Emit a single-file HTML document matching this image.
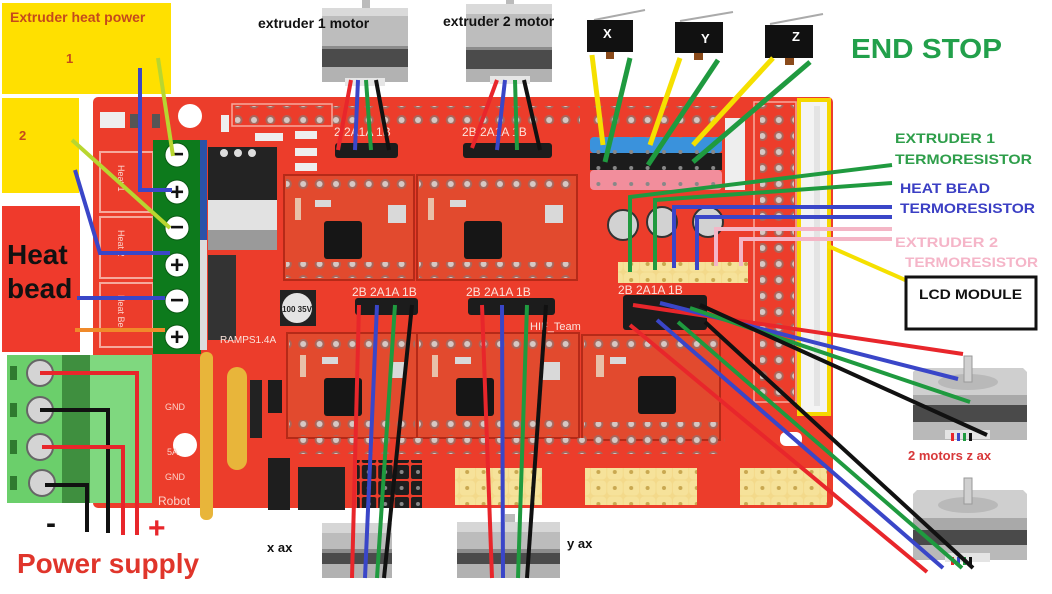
<!DOCTYPE html>
<html><head><meta charset="utf-8"><style>html,body{margin:0;padding:0;background:#fff}svg{display:block}</style></head>
<body>
<svg width="1052" height="594" viewBox="0 0 1052 594" xmlns="http://www.w3.org/2000/svg" font-family="'Liberation Sans', Arial, sans-serif" font-weight="bold">
<defs>
<pattern id="h" x="0" y="0" width="16.4" height="16" patternUnits="userSpaceOnUse"><circle cx="8" cy="8" r="5" fill="#a8675c"/><circle cx="8" cy="8" r="3" fill="#d6c8c4"/></pattern>
<pattern id="hy" x="0" y="0" width="16.4" height="16" patternUnits="userSpaceOnUse"><rect x="0" y="0" width="16.4" height="16" fill="#f3d98a"/><rect x="0.5" y="0.5" width="15.4" height="15" rx="4" fill="#f6e29a"/><circle cx="8" cy="8" r="2" fill="#c9a850"/></pattern>
<pattern id="hb" x="0" y="0" width="16.4" height="16" patternUnits="userSpaceOnUse"><rect x="1" y="1" width="14.4" height="14" rx="2" fill="#1e1e1e"/><circle cx="8" cy="8" r="2" fill="#888"/></pattern>
<pattern id="pd" x="0" y="0" width="16.4" height="16" patternUnits="userSpaceOnUse"><circle cx="8" cy="8" r="2" fill="#888"/></pattern>
</defs>
<rect width="1052" height="594" fill="#fff"/>

<!-- yellow / red label boxes -->
<rect x="2" y="3" width="169" height="91" fill="#ffe000"/>
<rect x="2" y="98" width="77" height="95" fill="#ffe000"/>
<rect x="2" y="206" width="78" height="146" fill="#ef3a2c"/>
<text x="10" y="22" font-size="14" fill="#c54a1c">Extruder heat power</text>
<text x="66" y="63" font-size="13" fill="#c54a1c">1</text>
<text x="19" y="140" font-size="13" fill="#c54a1c">2</text>
<text x="7" y="264" font-size="28" fill="#111">Heat</text>
<text x="7" y="298" font-size="28" fill="#111">bead</text>

<!-- board -->
<rect x="93" y="97" width="740" height="411" rx="5" fill="#ec3d2b"/>
<rect x="100" y="152" width="53" height="60" fill="none" stroke="#f6a99c" stroke-width="2"/>
<rect x="100" y="217" width="53" height="61" fill="none" stroke="#f6a99c" stroke-width="2"/>
<rect x="100" y="283" width="53" height="64" fill="none" stroke="#f6a99c" stroke-width="2"/>
<text transform="translate(118,165) rotate(90)" font-size="9" fill="#fbd3cb" font-weight="normal">Heat 1</text>
<text transform="translate(118,230) rotate(90)" font-size="9" fill="#fbd3cb" font-weight="normal">Heat 2</text>
<text transform="translate(118,295) rotate(90)" font-size="9" fill="#fbd3cb" font-weight="normal">Heat Bed</text>
<!-- top-left leds -->
<rect x="100" y="112" width="25" height="16" fill="#eee"/><rect x="130" y="114" width="10" height="14" fill="#555"/><rect x="152" y="114" width="8" height="14" fill="#555"/>
<circle cx="190" cy="116" r="12" fill="#fff"/>
<rect x="221" y="115" width="8" height="17" fill="#eee"/>
<!-- top hole row -->
<rect x="235" y="106" width="345" height="18" fill="url(#h)"/>
<rect x="590" y="106" width="130" height="18" fill="url(#h)"/>
<rect x="232" y="104" width="100" height="22" fill="none" stroke="#f6a99c" stroke-width="1.5"/>
<!-- small smd -->
<rect x="255" y="133" width="28" height="8" fill="#eee"/><rect x="295" y="131" width="22" height="8" fill="#eee"/>
<rect x="295" y="148" width="22" height="8" fill="#eee"/><rect x="295" y="163" width="22" height="8" fill="#eee"/>

<!-- heater green terminal -->
<rect x="153" y="140" width="48" height="214" fill="#0d7a1c"/>
<rect x="200" y="140" width="7" height="100" fill="#2a52a8"/>
<rect x="200" y="240" width="7" height="110" fill="#dcdcdc"/>
<g fill="#fff" stroke="#0a5a14" stroke-width="1">
<circle cx="177" cy="155" r="12"/><circle cx="177" cy="192" r="12"/><circle cx="177" cy="228" r="12"/>
<circle cx="177" cy="265" r="12"/><circle cx="177" cy="301" r="12"/><circle cx="177" cy="337" r="12"/></g>
<g font-size="24" fill="#111" text-anchor="middle">
<text x="177" y="162">−</text><text x="177" y="200">+</text><text x="177" y="235">−</text>
<text x="177" y="273">+</text><text x="177" y="308">−</text><text x="177" y="345">+</text></g>

<!-- mosfets -->
<rect x="208" y="147" width="69" height="53" fill="#232323"/>
<circle cx="224" cy="153" r="4" fill="#ddd"/><circle cx="238" cy="153" r="4" fill="#ddd"/><circle cx="252" cy="153" r="4" fill="#ddd"/>
<rect x="208" y="200" width="69" height="30" fill="#e2e2e2"/>
<rect x="208" y="230" width="69" height="20" fill="#9a9a9a"/>
<rect x="208" y="255" width="28" height="85" fill="#333"/>
<!-- capacitor 100uF -->
<rect x="280" y="290" width="36" height="36" fill="#222"/>
<circle cx="297" cy="308" r="16" fill="#e4e4e4" stroke="#222" stroke-width="2"/>
<text x="297" y="312" font-size="8" text-anchor="middle" fill="#222">100 35V</text>

<!-- drivers -->
<g stroke="#b52a18" stroke-width="2" fill="#e24a2e">
<rect x="284" y="175" width="130" height="105"/>
<rect x="417" y="175" width="160" height="105"/>
<rect x="287" y="333" width="130" height="105"/>
<rect x="417" y="333" width="162" height="105"/>
<rect x="582" y="335" width="138" height="105"/>
</g>
<g>
<rect x="286" y="177" width="126" height="16" fill="url(#h)"/><rect x="286" y="262" width="126" height="16" fill="url(#h)"/>
<rect x="419" y="177" width="156" height="16" fill="url(#h)"/><rect x="419" y="262" width="156" height="16" fill="url(#h)"/>
<rect x="289" y="335" width="126" height="16" fill="url(#h)"/><rect x="289" y="420" width="126" height="16" fill="url(#h)"/>
<rect x="419" y="335" width="158" height="16" fill="url(#h)"/><rect x="419" y="420" width="158" height="16" fill="url(#h)"/>
<rect x="584" y="337" width="134" height="16" fill="url(#h)"/><rect x="584" y="422" width="134" height="16" fill="url(#h)"/>
</g>
<g fill="#161616">
<rect x="324" y="221" width="38" height="38" rx="3"/>
<rect x="464" y="221" width="38" height="38" rx="3"/>
<rect x="324" y="378" width="38" height="38" rx="3"/>
<rect x="456" y="378" width="38" height="38" rx="3"/>
<rect x="638" y="376" width="38" height="38" rx="3"/>
</g>
<g fill="#d9d9d9">
<rect x="388" y="205" width="18" height="18"/><rect x="545" y="205" width="18" height="18"/>
<rect x="390" y="362" width="16" height="16"/><rect x="542" y="362" width="18" height="18"/>
<rect x="295" y="198" width="6" height="22" fill="#e8c0a8"/><rect x="428" y="198" width="6" height="22" fill="#e8c0a8"/>
<rect x="300" y="355" width="6" height="22" fill="#e8c0a8"/><rect x="432" y="355" width="6" height="22" fill="#e8c0a8"/>
<rect x="596" y="355" width="8" height="22" fill="#e8c0a8"/>
<rect x="315" y="200" width="16" height="7"/><rect x="450" y="200" width="16" height="7"/>
<rect x="322" y="357" width="16" height="7"/><rect x="455" y="357" width="16" height="7"/><rect x="610" y="357" width="16" height="7"/>
</g>
<!-- hole row below bottom drivers -->
<rect x="295" y="438" width="430" height="16" fill="url(#h)"/>

<!-- motor headers -->
<rect x="335" y="143" width="63" height="15" rx="3" fill="#1c1c1c"/>
<rect x="463" y="143" width="89" height="15" rx="3" fill="#1c1c1c"/>
<rect x="355" y="298" width="63" height="17" rx="3" fill="#1c1c1c"/>
<rect x="468" y="298" width="87" height="17" rx="3" fill="#1c1c1c"/>
<rect x="623" y="295" width="84" height="35" rx="3" fill="#1c1c1c"/>
<g font-size="12" fill="#fbe3dc" font-weight="normal">
<text x="334" y="136">2  2A1A 1B</text>
<text x="462" y="136">2B 2A1A 1B</text>
<text x="352" y="296">2B 2A1A 1B</text>
<text x="466" y="296">2B 2A1A 1B</text>
<text x="618" y="294">2B 2A1A 1B</text>
<text x="220" y="343" font-size="10">RAMPS1.4A</text>
<text x="530" y="330" font-size="11">HIF_Team</text>
</g>

<!-- endstop headers -->
<rect x="590" y="137" width="132" height="16" rx="4" fill="#3a92dc"/>
<rect x="590" y="153" width="132" height="17" fill="#1c1c1c"/>
<rect x="590" y="170" width="132" height="20" rx="4" fill="#f28e9c"/>
<rect x="590" y="137" width="132" height="53" fill="url(#pd)"/>
<rect x="725" y="118" width="20" height="72" fill="#eeeeee"/>
<!-- caps -->
<circle cx="623" cy="225" r="15" fill="#d2d2d2" stroke="#333" stroke-width="2"/>
<circle cx="662" cy="222" r="15" fill="#d2d2d2" stroke="#333" stroke-width="2"/>
<circle cx="708" cy="222" r="15" fill="#d2d2d2" stroke="#333" stroke-width="2"/>
<!-- thermistor header -->
<rect x="618" y="262" width="130" height="21" fill="url(#hy)"/>

<!-- right hole matrix + LCD header -->
<rect x="754" y="102" width="42" height="300" fill="none" stroke="#f6a99c" stroke-width="1.5"/>
<rect x="760" y="105" width="34" height="295" fill="url(#h)"/>
<rect x="799" y="100" width="30" height="314" fill="#f4f4f4" stroke="#f5d800" stroke-width="4"/>
<rect x="814" y="106" width="6" height="300" fill="#d8d8d8" opacity="0.6"/>
<!-- bottom yellow headers -->
<rect x="455" y="468" width="87" height="37" fill="url(#hy)"/>
<rect x="585" y="468" width="112" height="37" fill="url(#hy)"/>
<rect x="740" y="468" width="87" height="37" fill="url(#hy)"/>
<rect x="780" y="432" width="22" height="14" rx="6" fill="#fff"/>
<!-- bottom-left parts -->
<rect x="268" y="380" width="14" height="33" fill="#1c1c1c"/>
<rect x="250" y="380" width="12" height="58" fill="#222"/>
<rect x="268" y="458" width="22" height="52" fill="#1e1e1e"/>
<rect x="298" y="467" width="47" height="43" fill="#222"/>
<rect x="357" y="460" width="65" height="48" fill="url(#hb)"/>
<rect x="200" y="352" width="13" height="168" rx="6" fill="#e8b53a"/>
<rect x="227" y="367" width="20" height="103" rx="10" fill="#e8b53a"/>
<circle cx="185" cy="445" r="12" fill="#fff"/>
<g font-size="9" fill="#fbd3cb" font-weight="normal">
<text x="165" y="410">GND</text><text x="165" y="480">GND</text><text x="167" y="455">5A</text>
<text x="158" y="505" font-size="12">Robot</text>
</g>

<!-- power green terminal -->
<rect x="7" y="355" width="145" height="148" fill="#6bcf6b"/>
<rect x="62" y="355" width="28" height="148" fill="#3f8f3f"/>
<rect x="90" y="355" width="62" height="148" fill="#7fd87f"/>
<g fill="#2f7a2f"><rect x="10" y="366" width="7" height="14"/><rect x="10" y="403" width="7" height="14"/><rect x="10" y="440" width="7" height="14"/><rect x="10" y="476" width="7" height="14"/></g>
<g fill="#d4d4d4" stroke="#666" stroke-width="2">
<circle cx="40" cy="373" r="13"/><circle cx="40" cy="410" r="13"/><circle cx="40" cy="447" r="13"/><circle cx="42" cy="483" r="13"/></g>
<g fill="none" stroke-width="4">
<path d="M40 373 H137 V535" stroke="#e8262b"/>
<path d="M40 410 H108 V533" stroke="#111"/>
<path d="M42 447 H123 V535" stroke="#e8262b"/>
<path d="M45 485 H87 V532" stroke="#111"/>
</g>
<text x="46" y="533" font-size="30" fill="#111">-</text>
<text x="148" y="538" font-size="30" fill="#e8262b">+</text>
<text x="17" y="573" font-size="28" fill="#e0352b">Power supply</text>

<!-- heater wires -->
<g fill="none" stroke-width="4">
<path d="M140 68 V190 H172" stroke="#3a46c8"/>
<path d="M158 58 L173 156" stroke="#b8d630"/>
<path d="M72 140 L170 228" stroke="#b8d630"/>
<path d="M75 170 L100 253 H170" stroke="#3a46c8"/>
<path d="M77 298 H165" stroke="#3a46c8"/>
<path d="M75 330 H165" stroke="#f08a2a"/>
</g>

<!-- stepper motors -->
<g>
<rect x="362" y="0" width="8" height="10" fill="#bbb"/>
<rect x="322" y="8" width="86" height="8" fill="#dadada"/>
<rect x="322" y="16" width="86" height="30" fill="#bdbdbd"/>
<rect x="322" y="46" width="86" height="3" fill="#8c8c8c"/>
<rect x="322" y="49" width="86" height="18" fill="#4b4b4b"/>
<rect x="322" y="67" width="86" height="15" fill="#b2b2b2"/>
<rect x="345" y="78" width="40" height="8" fill="#e6e6e6"/>
</g>
<g>
<rect x="506" y="0" width="8" height="6" fill="#bbb"/>
<rect x="466" y="4" width="86" height="10" fill="#dadada"/>
<rect x="466" y="14" width="86" height="33" fill="#bdbdbd"/>
<rect x="466" y="47" width="86" height="3" fill="#8c8c8c"/>
<rect x="466" y="50" width="86" height="19" fill="#4b4b4b"/>
<rect x="466" y="69" width="86" height="13" fill="#b2b2b2"/>
<rect x="490" y="76" width="40" height="8" fill="#e6e6e6"/>
</g>
<text x="258" y="28" font-size="14" fill="#111">extruder 1 motor</text>
<text x="443" y="26" font-size="14" fill="#111">extruder 2 motor</text>

<g>
<rect x="322" y="523" width="70" height="10" fill="#d6d6d6"/>
<rect x="322" y="533" width="70" height="16" fill="#bcbcbc"/>
<rect x="322" y="549" width="70" height="4" fill="#8c8c8c"/>
<rect x="322" y="553" width="70" height="11" fill="#4b4b4b"/>
<rect x="322" y="564" width="70" height="14" fill="#b2b2b2"/>
</g>
<g>
<rect x="505" y="514" width="10" height="10" fill="#bbb"/>
<rect x="457" y="522" width="103" height="10" fill="#d6d6d6"/>
<rect x="457" y="532" width="103" height="17" fill="#bcbcbc"/>
<rect x="457" y="549" width="103" height="4" fill="#8c8c8c"/>
<rect x="457" y="553" width="103" height="11" fill="#4b4b4b"/>
<rect x="457" y="564" width="103" height="14" fill="#b2b2b2"/>
</g>
<text x="267" y="552" font-size="13" fill="#111">x ax</text>
<text x="567" y="548" font-size="13" fill="#111">y ax</text>

<!-- z motors -->
<g>
<polygon points="917,368 1023,368 1027,372 1027,395 913,395 913,372" fill="#cfcfcf"/>
<ellipse cx="968" cy="382" rx="30" ry="8" fill="#b9b9b9"/>
<rect x="964" y="356" width="8" height="26" fill="#d0d0d0" stroke="#999"/>
<rect x="913" y="395" width="114" height="10" fill="#a9a9a9"/>
<rect x="913" y="405" width="114" height="17" fill="#4a4a4a"/>
<rect x="913" y="422" width="114" height="18" fill="#b9b9b9"/>
<rect x="945" y="430" width="45" height="9" fill="#e4e4e4"/>
<rect x="951" y="433" width="3" height="8" fill="#e8262b"/><rect x="957" y="433" width="3" height="8" fill="#3a46c8"/>
<rect x="963" y="433" width="3" height="8" fill="#1f9a3f"/><rect x="969" y="433" width="3" height="8" fill="#111"/>
</g>
<g>
<polygon points="917,490 1023,490 1027,494 1027,518 913,518 913,494" fill="#cfcfcf"/>
<ellipse cx="968" cy="505" rx="30" ry="8" fill="#b9b9b9"/>
<rect x="964" y="478" width="8" height="26" fill="#d0d0d0" stroke="#999"/>
<rect x="913" y="518" width="114" height="12" fill="#a9a9a9"/>
<rect x="913" y="530" width="114" height="15" fill="#4a4a4a"/>
<rect x="913" y="545" width="114" height="15" fill="#b9b9b9"/>
<rect x="945" y="553" width="45" height="9" fill="#e4e4e4"/>
<rect x="951" y="557" width="3" height="8" fill="#e8262b"/><rect x="957" y="557" width="3" height="8" fill="#3a46c8"/>
<rect x="963" y="557" width="3" height="8" fill="#1f9a3f"/><rect x="969" y="557" width="3" height="8" fill="#111"/>
</g>
<text x="908" y="460" font-size="13" fill="#d8383a">2 motors z ax</text>

<!-- extruder motor wires -->
<g fill="none" stroke-width="4">
<path d="M351 80 L338 150" stroke="#e8262b"/>
<path d="M358 80 L355 150" stroke="#3a46c8"/>
<path d="M366 80 L371 150" stroke="#1f9a3f"/>
<path d="M376 80 L389 150" stroke="#111"/>
<path d="M497 80 L472 148" stroke="#e8262b"/>
<path d="M505 80 L497 150" stroke="#3a46c8"/>
<path d="M515 80 L517 150" stroke="#1f9a3f"/>
<path d="M524 80 L540 150" stroke="#111"/>
<!-- x / y axis -->
<path d="M359 305 L352 578" stroke="#e8262b"/>
<path d="M377 305 L365 578" stroke="#3a46c8"/>
<path d="M395 305 L377 578" stroke="#1f9a3f"/>
<path d="M412 305 L384 578" stroke="#111"/>
<path d="M482 305 L492 578" stroke="#e8262b"/>
<path d="M502 305 L503 578" stroke="#3a46c8"/>
<path d="M527 305 L518 578" stroke="#1f9a3f"/>
<path d="M546 305 L527 578" stroke="#111"/>
<!-- z wires -->
<path d="M633 305 L963 354" stroke="#e8262b"/>
<path d="M660 303 L958 379" stroke="#3a46c8"/>
<path d="M690 308 L970 402" stroke="#1f9a3f"/>
<path d="M700 305 L987 435" stroke="#111"/>
<path d="M630 325 L927 572" stroke="#e8262b"/>
<path d="M657 320 L943 568" stroke="#3a46c8"/>
<path d="M678 322 L962 568" stroke="#1f9a3f"/>
<path d="M705 322 L973 568" stroke="#111"/>
<!-- thermistor wires -->
<path d="M892 165 L630 197 L630 272" stroke="#1f9a3f"/>
<path d="M892 183 L655 200 L655 270" stroke="#1f9a3f"/>
<path d="M892 207 H674 V268" stroke="#3a46c8"/>
<path d="M892 217 H697 V270" stroke="#3a46c8"/>
<path d="M892 229 H716 V266" stroke="#f4b6c6"/>
<path d="M892 239 H741 V266" stroke="#f4b6c6"/>
<path d="M828 246 L912 283" stroke="#f5e000"/>
</g>

<!-- endstop switches -->
<g stroke="#aaa" stroke-width="2"><path d="M594 20 L645 10"/><path d="M680 21 L733 12"/><path d="M770 24 L823 14"/></g>
<rect x="587" y="20" width="46" height="32" fill="#111"/>
<rect x="675" y="22" width="48" height="31" fill="#111"/>
<rect x="765" y="25" width="48" height="33" fill="#111"/>
<rect x="606" y="52" width="8" height="7" fill="#8a4a1a"/>
<rect x="694" y="53" width="9" height="7" fill="#8a4a1a"/>
<rect x="785" y="58" width="9" height="7" fill="#8a4a1a"/>
<g font-size="13" fill="#fff"><text x="603" y="38">X</text><text x="701" y="43">Y</text><text x="792" y="41">Z</text></g>
<g fill="none" stroke-width="5">
<path d="M592 55 L603 145" stroke="#f5e000"/>
<path d="M630 58 L605 162" stroke="#1f9a3f"/>
<path d="M680 58 L650 145" stroke="#f5e000"/>
<path d="M718 60 L648 165" stroke="#1f9a3f"/>
<path d="M773 58 L693 145" stroke="#f5e000"/>
<path d="M810 62 L693 162" stroke="#1f9a3f"/>
</g>

<!-- right labels -->
<text x="851" y="58" font-size="28" fill="#22a04b" textLength="151" lengthAdjust="spacingAndGlyphs">END STOP</text>
<g font-size="14">
<text x="895" y="143" fill="#2e9e4a" textLength="100" lengthAdjust="spacingAndGlyphs">EXTRUDER 1</text>
<text x="895" y="164" fill="#2e9e4a" textLength="137" lengthAdjust="spacingAndGlyphs">TERMORESISTOR</text>
<text x="900" y="193" fill="#3b3fc4" textLength="90" lengthAdjust="spacingAndGlyphs">HEAT BEAD</text>
<text x="900" y="213" fill="#3b3fc4" textLength="135" lengthAdjust="spacingAndGlyphs">TERMORESISTOR</text>
<text x="895" y="247" fill="#f5b5c8" textLength="103" lengthAdjust="spacingAndGlyphs">EXTRUDER  2</text>
<text x="905" y="267" fill="#f5b5c8" textLength="133" lengthAdjust="spacingAndGlyphs">TERMORESISTOR</text>
</g>
<rect x="906" y="277" width="130" height="52" fill="#fff" stroke="#111" stroke-width="3"/>
<text x="919" y="299" font-size="14" fill="#111" textLength="103" lengthAdjust="spacingAndGlyphs">LCD MODULE</text>
</svg>
</body></html>
